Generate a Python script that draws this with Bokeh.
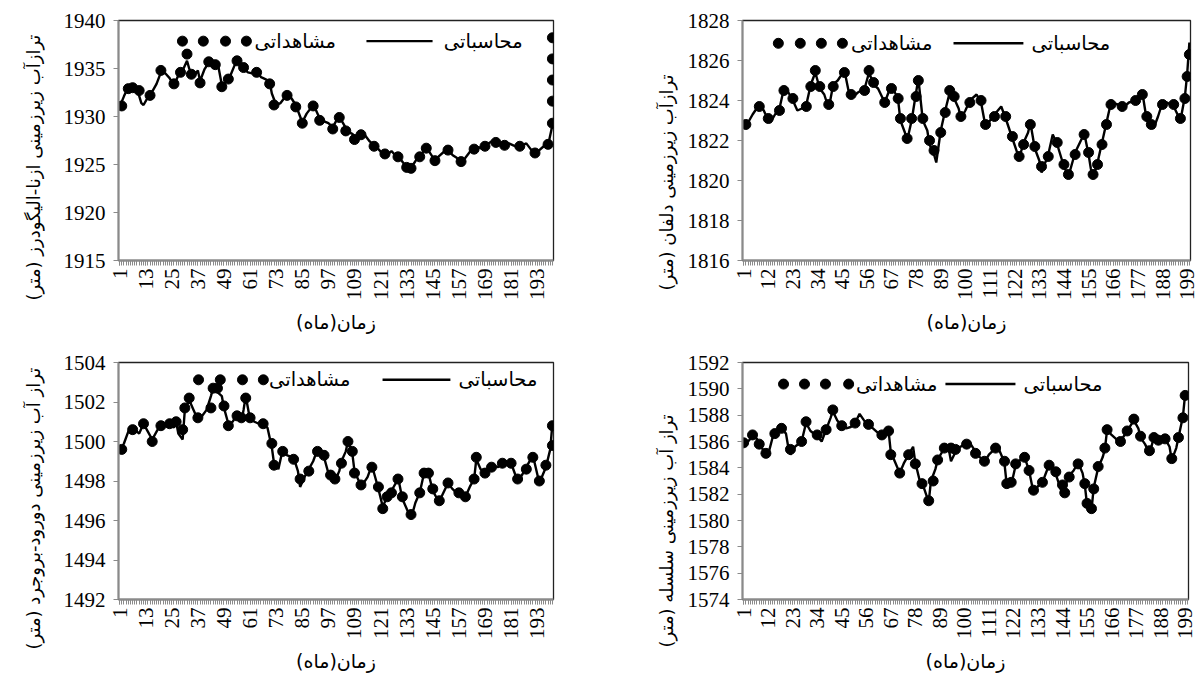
import math
from bokeh.plotting import figure
from bokeh.models import FixedTicker, Range1d, Label, Title
from bokeh.layouts import column, row
from bokeh.embed import file_html
from bokeh.resources import INLINE

# ---------------- tick labels ----------------
xticks_a = [1, 13, 25, 37, 49, 61, 73, 85, 97, 109, 121, 133, 145, 157, 169, 181, 193]
xticks_b = [1, 12, 23, 34, 45, 56, 67, 78, 89, 100, 111, 122, 133, 144, 155, 166, 177, 188, 199]
month_marks = list(range(1, 201))
yticks_1 = [1915, 1920, 1925, 1930, 1935, 1940]
yticks_2 = [1816, 1818, 1820, 1822, 1824, 1826, 1828]
yticks_3 = [1492, 1494, 1496, 1498, 1500, 1502, 1504]
yticks_4 = [1574, 1576, 1578, 1580, 1582, 1584, 1586, 1588, 1590, 1592]

# ---------------- panel 1: Azna-Aligudarz ----------------
obs1_m = [2, 5, 7, 10, 15, 20, 26, 29, 32, 34,
          38, 42, 45, 48, 51, 55, 58, 64, 70, 72,
          78, 82, 85, 90, 93, 99, 102, 105, 109, 112,
          118, 123, 129, 133, 135, 139, 142, 146, 152, 158,
          164, 169, 174, 178, 185, 192, 198, 200, 200, 200,
          200, 200]
obs1_v = [1931.1, 1932.9, 1933.0, 1932.7, 1932.2, 1934.8, 1933.4, 1934.6, 1936.5, 1934.4,
          1933.5, 1935.7, 1935.4, 1933.1, 1933.9, 1935.8, 1935.1, 1934.6, 1933.4, 1931.2,
          1932.2, 1931.0, 1929.3, 1931.1, 1929.6, 1928.7, 1929.9, 1928.5, 1927.6, 1928.1,
          1926.9, 1926.1, 1925.8, 1924.7, 1924.6, 1925.8, 1926.7, 1925.4, 1926.5, 1925.3,
          1926.6, 1926.9, 1927.3, 1927.0, 1926.9, 1926.2, 1927.1, 1929.3, 1931.6, 1933.8,
          1936.0, 1938.2]
sim1_m = [1, 3, 5, 7, 9, 11, 12, 14, 16, 18,
          20, 22, 24, 26, 28, 30, 32, 33, 35, 37,
          38, 40, 42, 44, 46, 48, 50, 52, 54, 56,
          58, 60, 62, 64, 66, 68, 70, 71, 73, 75,
          77, 78, 80, 82, 84, 85, 87, 89, 91, 93,
          95, 97, 99, 101, 102, 104, 106, 108, 110, 112,
          114, 116, 118, 120, 122, 124, 126, 128, 130, 132,
          134, 136, 138, 140, 142, 144, 146, 148, 150, 152,
          154, 156, 158, 160, 162, 164, 166, 168, 170, 172,
          174, 176, 178, 180, 182, 184, 186, 188, 190, 192,
          194, 196, 198, 200]
sim1_v = [1931.0, 1932.1, 1933.1, 1933.3, 1932.9, 1931.4, 1931.2, 1932.0, 1932.6, 1933.4,
          1934.6, 1934.5, 1934.0, 1933.2, 1934.3, 1934.8, 1935.8, 1935.0, 1934.1, 1934.8,
          1933.7, 1934.9, 1935.6, 1935.2, 1935.7, 1933.3, 1933.6, 1934.3, 1935.4, 1935.7,
          1935.0, 1934.6, 1934.5, 1934.8, 1934.1, 1933.9, 1933.6, 1932.4, 1931.2, 1931.4,
          1932.0, 1932.4, 1931.9, 1931.2, 1930.0, 1929.4, 1930.3, 1930.9, 1930.8, 1929.8,
          1929.5, 1929.3, 1928.9, 1929.7, 1930.0, 1929.2, 1928.4, 1928.2, 1927.8, 1928.3,
          1928.0, 1927.4, 1927.0, 1926.6, 1926.1, 1926.0, 1926.4, 1925.9, 1925.6, 1925.0,
          1924.6, 1925.0, 1925.7, 1926.1, 1926.8, 1926.1, 1925.4, 1925.9, 1926.3, 1926.7,
          1926.0, 1925.7, 1925.3, 1925.7, 1926.3, 1926.7, 1926.8, 1926.6, 1927.1, 1927.4,
          1927.3, 1927.0, 1926.9, 1927.2, 1927.0, 1926.8, 1927.0, 1927.2, 1926.6, 1926.1,
          1926.5, 1926.9, 1927.0, 1929.1]

# ---------------- panel 2: Delfan ----------------
obs2_m = [2, 8, 12, 17, 19, 23, 29, 31, 33, 35,
          39, 41, 46, 49, 55, 57, 59, 64, 67, 70,
          71, 74, 76, 78, 79, 81, 84, 86, 89, 91,
          93, 95, 98, 102, 107, 109, 113, 118, 121, 124,
          126, 129, 131, 134, 137, 141, 144, 146, 149, 153,
          155, 157, 159, 161, 163, 165, 170, 176, 179, 181,
          183, 188, 193, 196, 198, 199, 200]
obs2_v = [1822.8, 1823.7, 1823.1, 1823.5, 1824.5, 1824.1, 1823.7, 1824.7, 1825.5, 1824.7,
          1823.8, 1824.7, 1825.4, 1824.3, 1824.5, 1825.5, 1824.9, 1823.9, 1824.6, 1824.1,
          1823.1, 1822.1, 1823.1, 1824.2, 1825.0, 1823.1, 1822.0, 1821.5, 1822.4, 1823.4,
          1824.5, 1824.2, 1823.2, 1823.9, 1824.0, 1822.8, 1823.2, 1823.2, 1822.2, 1821.2,
          1821.8, 1822.8, 1821.7, 1820.7, 1821.2, 1821.9, 1820.8, 1820.3, 1821.3, 1822.3,
          1821.4, 1820.3, 1820.8, 1821.8, 1822.8, 1823.8, 1823.7, 1824.0, 1824.3, 1823.2,
          1822.8, 1823.8, 1823.8, 1823.1, 1824.1, 1825.2, 1826.3]
sim2_m = [1, 3, 5, 8, 10, 12, 13, 15, 17, 19,
          21, 23, 25, 27, 29, 31, 33, 35, 37, 39,
          41, 43, 46, 48, 50, 52, 55, 57, 59, 61,
          64, 66, 67, 69, 70, 71, 73, 74, 76, 78,
          79, 81, 83, 84, 86, 87, 89, 91, 93, 95,
          97, 98, 100, 102, 105, 107, 109, 111, 113, 116,
          118, 121, 124, 126, 128, 129, 131, 133, 134, 137,
          139, 141, 144, 146, 149, 152, 153, 155, 156, 157,
          159, 161, 163, 165, 168, 170, 173, 176, 179, 181,
          184, 186, 188, 190, 193, 196, 198, 199, 200]
sim2_v = [1822.7, 1822.9, 1823.3, 1823.8, 1823.5, 1823.0, 1822.9, 1823.3, 1823.6, 1824.6,
          1824.4, 1824.0, 1823.5, 1823.6, 1823.8, 1824.8, 1825.4, 1824.6, 1824.3, 1823.6,
          1824.8, 1825.0, 1825.5, 1824.4, 1824.2, 1824.4, 1824.6, 1825.4, 1824.8, 1824.6,
          1823.9, 1824.5, 1824.7, 1824.3, 1824.0, 1823.0, 1822.4, 1822.0, 1823.0, 1824.4,
          1825.1, 1823.0, 1822.5, 1821.8, 1821.3, 1820.9, 1822.5, 1823.5, 1824.4, 1824.1,
          1823.6, 1823.1, 1823.5, 1824.0, 1824.3, 1823.9, 1822.7, 1823.0, 1823.3, 1823.7,
          1823.1, 1822.1, 1821.1, 1821.9, 1822.4, 1822.9, 1821.6, 1821.0, 1820.4, 1821.3,
          1822.3, 1821.8, 1820.7, 1820.2, 1821.4, 1822.1, 1822.4, 1821.3, 1820.6, 1820.1,
          1820.9, 1821.9, 1822.9, 1823.9, 1823.8, 1823.6, 1823.9, 1824.0, 1824.4, 1823.0,
          1822.6, 1823.2, 1823.9, 1823.9, 1823.7, 1823.0, 1824.2, 1825.3, 1826.9]

# ---------------- panel 3: Dorud-Borujerd ----------------
obs3_m = [2, 7, 12, 16, 20, 24, 27, 30, 31, 33,
          37, 43, 44, 46, 49, 51, 55, 57, 59, 61,
          67, 71, 72, 76, 81, 84, 88, 92, 95, 98,
          100, 103, 106, 108, 109, 112, 117, 120, 122, 124,
          126, 129, 131, 135, 139, 141, 143, 145, 148, 152,
          157, 160, 164, 165, 169, 172, 177, 181, 184, 188,
          191, 194, 197, 200, 200]
obs3_v = [1499.6, 1500.6, 1500.9, 1500.0, 1500.8, 1500.9, 1501.0, 1500.6, 1501.7, 1502.2,
          1501.2, 1501.7, 1502.7, 1502.7, 1501.8, 1500.8, 1501.3, 1501.2, 1502.2, 1501.2,
          1500.9, 1499.9, 1498.8, 1499.5, 1499.1, 1498.1, 1498.5, 1499.5, 1499.3, 1498.3,
          1498.1, 1498.9, 1500.0, 1499.5, 1498.4, 1497.8, 1498.7, 1497.7, 1496.6, 1497.2,
          1497.4, 1498.1, 1497.2, 1496.3, 1497.4, 1498.4, 1498.4, 1497.6, 1497.0, 1497.9,
          1497.4, 1497.2, 1498.1, 1499.2, 1498.4, 1498.7, 1498.9, 1498.9, 1498.1, 1498.6,
          1499.2, 1498.0, 1498.8, 1499.8, 1500.8]
sim3_m = [1, 3, 5, 7, 10, 12, 14, 16, 18, 20,
          22, 24, 26, 27, 28, 30, 31, 33, 35, 37,
          39, 41, 43, 44, 46, 48, 49, 51, 53, 55,
          57, 58, 59, 61, 63, 65, 67, 69, 71, 72,
          74, 76, 78, 81, 83, 84, 86, 88, 90, 92,
          95, 97, 98, 100, 102, 103, 105, 106, 108, 109,
          111, 112, 115, 117, 119, 120, 122, 124, 126, 128,
          129, 131, 133, 135, 137, 139, 141, 143, 145, 147,
          149, 152, 154, 157, 160, 162, 164, 165, 167, 169,
          172, 175, 177, 179, 181, 184, 186, 188, 191, 194,
          197, 199, 200]
sim3_v = [1499.5, 1499.9, 1500.5, 1500.7, 1500.4, 1500.9, 1500.5, 1500.1, 1500.5, 1500.9,
          1500.8, 1501.0, 1500.7, 1501.0, 1500.4, 1500.1, 1501.6, 1502.1, 1501.6, 1501.1,
          1501.3, 1501.6, 1502.3, 1502.7, 1502.5, 1502.3, 1501.7, 1500.9, 1501.0, 1501.4,
          1501.0, 1501.6, 1502.3, 1501.1, 1501.0, 1500.9, 1500.8, 1500.7, 1499.7, 1498.9,
          1498.6, 1499.6, 1499.3, 1499.2, 1498.5, 1497.7, 1498.2, 1498.6, 1499.0, 1499.6,
          1499.2, 1498.4, 1498.2, 1498.0, 1498.5, 1499.0, 1499.5, 1500.0, 1499.4, 1498.5,
          1498.0, 1497.7, 1498.2, 1498.8, 1498.0, 1497.6, 1496.7, 1497.2, 1497.5, 1497.9,
          1498.2, 1497.1, 1496.6, 1496.1, 1496.9, 1497.4, 1498.4, 1498.4, 1497.5, 1497.1,
          1497.2, 1497.9, 1497.6, 1497.3, 1497.2, 1497.7, 1498.1, 1499.1, 1498.6, 1498.4,
          1498.8, 1498.7, 1499.0, 1498.8, 1498.9, 1498.0, 1498.3, 1498.7, 1499.3, 1497.9,
          1498.7, 1499.6, 1500.9]

# ---------------- panel 4: Selseleh ----------------
obs4_m = [1, 5, 8, 11, 15, 18, 22, 27, 29, 34,
          38, 41, 45, 51, 57, 63, 66, 67, 71, 75,
          78, 81, 84, 86, 88, 91, 94, 96, 101, 105,
          109, 114, 118, 119, 121, 123, 127, 129, 131, 135,
          138, 141, 144, 145, 147, 151, 154, 155, 157, 158,
          160, 163, 164, 170, 173, 176, 179, 183, 185, 187,
          190, 193, 196, 198, 199]
obs4_v = [1585.9, 1586.5, 1585.8, 1585.1, 1586.6, 1587.0, 1585.4, 1586.0, 1587.5, 1586.5,
          1586.9, 1588.4, 1587.2, 1587.4, 1587.3, 1586.5, 1586.8, 1585.0, 1583.6, 1585.0,
          1584.3, 1582.8, 1581.5, 1583.0, 1584.6, 1585.5, 1585.5, 1585.4, 1585.8, 1585.1,
          1584.5, 1585.5, 1584.5, 1582.8, 1582.9, 1584.3, 1584.8, 1583.8, 1582.3, 1582.9,
          1584.2, 1583.7, 1582.7, 1582.1, 1583.3, 1584.3, 1582.8, 1581.3, 1580.9, 1582.4,
          1584.1, 1585.5, 1586.9, 1586.0, 1586.8, 1587.7, 1586.4, 1585.3, 1586.3, 1586.1,
          1586.2, 1584.7, 1586.3, 1587.8, 1589.5]
sim4_m = [1, 3, 5, 7, 8, 10, 12, 14, 16, 18,
          20, 21, 22, 24, 27, 29, 31, 34, 36, 38,
          40, 41, 43, 45, 47, 49, 51, 53, 55, 57,
          59, 61, 63, 65, 66, 67, 69, 71, 73, 75,
          77, 78, 80, 82, 84, 85, 87, 88, 90, 91,
          93, 94, 96, 98, 101, 102, 104, 105, 107, 109,
          111, 114, 115, 117, 118, 119, 121, 123, 125, 127,
          129, 131, 133, 135, 137, 138, 140, 141, 143, 144,
          146, 147, 149, 151, 153, 154, 155, 157, 158, 160,
          162, 163, 164, 166, 168, 170, 173, 176, 178, 179,
          181, 183, 185, 187, 189, 190, 192, 193, 195, 196,
          198, 199]
sim4_v = [1585.8, 1586.0, 1586.4, 1586.2, 1585.8, 1585.3, 1585.0, 1586.3, 1586.7, 1587.0,
          1586.6, 1585.6, 1585.0, 1585.6, 1586.0, 1587.4, 1586.8, 1586.4, 1586.0, 1586.9,
          1587.8, 1588.3, 1587.6, 1587.2, 1587.0, 1587.1, 1587.4, 1588.1, 1587.6, 1587.2,
          1587.0, 1586.7, 1586.5, 1586.6, 1586.8, 1585.2, 1584.4, 1583.6, 1584.4, 1585.0,
          1585.6, 1584.4, 1583.0, 1582.4, 1581.4, 1583.0, 1583.9, 1584.6, 1585.2, 1585.5,
          1585.4, 1584.5, 1585.2, 1585.6, 1585.8, 1586.0, 1585.5, 1585.1, 1584.8, 1584.4,
          1585.0, 1585.5, 1585.6, 1584.8, 1584.3, 1582.7, 1582.7, 1584.2, 1584.6, 1584.8,
          1583.8, 1582.1, 1582.6, 1582.9, 1583.8, 1584.3, 1584.0, 1583.5, 1582.5, 1582.0,
          1583.0, 1583.4, 1583.8, 1584.4, 1583.6, 1582.7, 1581.2, 1580.8, 1582.5, 1584.0,
          1584.8, 1585.4, 1586.9, 1586.5, 1586.2, 1586.0, 1586.8, 1587.6, 1587.0, 1586.3,
          1585.8, 1585.1, 1586.3, 1586.0, 1586.4, 1586.2, 1585.6, 1584.6, 1585.5, 1586.3,
          1587.9, 1589.6]

ytitle_1 = "ترازآب زیرزمینی ازنا-الیگودرز (متر)"
ytitle_2 = "ترازآب زیرزمینی دلفان (متر)"
ytitle_3 = "تراز آب زیرزمینی دورود-بروجرد (متر)"
ytitle_4 = "تراز آب زیرزمینی سلسله (متر)"
xtitle = "زمان(ماه)"
label_obs = "مشاهداتی"
label_sim = "محاسباتی"

AXIS_GRAY = "#8a8a8a"
FA_FONT = "DejaVu Sans"
NUM_FONT = "'Liberation Serif', 'Times New Roman', serif"


def panel(obs_m, obs_v, sim_m, sim_v, yticks, xticks, ytitle,
          width, height, bl, br, bt, bb, title_standoff, title_offset, leg):
    x0, x1 = 0.5, 200.5
    y0, y1 = yticks[0], yticks[-1]
    p = figure(width=width, height=height, output_backend="svg", toolbar_location=None,
               x_range=Range1d(x0, x1), y_range=Range1d(y0, y1),
               min_border_left=bl, min_border_right=br, min_border_top=bt, min_border_bottom=bb,
               background_fill_color="white", border_fill_color="white")
    p.grid.visible = False
    p.outline_line_color = "#222222"
    p.outline_line_width = 1.3

    p.line(sim_m, sim_v, line_color="black", line_width=2.4)
    p.scatter(obs_m, obs_v, size=10, fill_color="black", line_color="black")

    # legend (positions as fractions of the frame)
    ly = y1 - leg["y"] * (y1 - y0)
    dots_x = [x0 + f * (x1 - x0) for f in leg["dots"]]
    p.scatter(dots_x, [ly] * len(dots_x), size=10, fill_color="black", line_color="black")
    p.add_layout(Label(x=x0 + leg["t1"] * (x1 - x0), y=ly, text=label_obs,
                       text_align="right", text_baseline="middle",
                       text_font=FA_FONT, text_font_size="19.5px", text_color="black"))
    p.line([x0 + leg["l0"] * (x1 - x0), x0 + leg["l1"] * (x1 - x0)], [ly, ly],
           line_color="black", line_width=2.4)
    p.add_layout(Label(x=x0 + leg["t2"] * (x1 - x0), y=ly, text=label_sim,
                       text_align="right", text_baseline="middle",
                       text_font=FA_FONT, text_font_size="19.5px", text_color="black"))

    xa = p.xaxis[0]
    xa.ticker = FixedTicker(ticks=xticks, minor_ticks=month_marks)
    xa.major_label_orientation = math.pi / 2
    xa.axis_line_color = AXIS_GRAY
    xa.axis_line_width = 2
    xa.major_tick_line_color = AXIS_GRAY
    xa.minor_tick_line_color = AXIS_GRAY
    xa.major_tick_in = 0
    xa.major_tick_out = 5
    xa.minor_tick_in = 0
    xa.minor_tick_out = 5
    xa.major_label_text_font = NUM_FONT
    xa.major_label_text_font_size = "21px"
    xa.major_label_text_color = "black"
    xa.major_label_standoff = 3
    xa.axis_label = xtitle
    xa.axis_label_text_font = FA_FONT
    xa.axis_label_text_font_style = "normal"
    xa.axis_label_text_font_size = "19px"
    xa.axis_label_text_color = "black"
    xa.axis_label_standoff = 8

    ya = p.yaxis[0]
    ya.ticker = FixedTicker(ticks=yticks, minor_ticks=[])
    ya.axis_line_color = AXIS_GRAY
    ya.axis_line_width = 2
    ya.major_tick_line_color = AXIS_GRAY
    ya.minor_tick_line_color = None
    ya.major_tick_in = 0
    ya.major_tick_out = 5
    ya.major_label_text_font = NUM_FONT
    ya.major_label_text_font_size = "21px"
    ya.major_label_text_color = "black"
    ya.major_label_standoff = 8

    # vertical axis title as a side title, anchored at the frame bottom and shifted down
    t = Title(text=ytitle, align="left", offset=title_offset, standoff=title_standoff,
              vertical_align="top",
              text_font=FA_FONT, text_font_size="18px", text_font_style="normal",
              text_color="black")
    p.add_layout(t, "left")
    return p


p1 = panel(obs1_m, obs1_v, sim1_m, sim1_v, yticks_1, xticks_a, ytitle_1,
           600, 337, 118, 47, 20, 77, 30, -40,
           dict(y=0.086, dots=[0.147, 0.195, 0.246, 0.294], t1=0.50, l0=0.570, l1=0.722, t2=0.929))
p2 = panel(obs2_m, obs2_v, sim2_m, sim2_v, yticks_2, xticks_b, ytitle_2,
           601, 337, 142, 11, 20, 77, 12, -30,
           dict(y=0.095, dots=[0.080, 0.129, 0.176, 0.223], t1=0.424, l0=0.471, l1=0.627, t2=0.821))
p3 = panel(obs3_m, obs3_v, sim3_m, sim3_v, yticks_3, xticks_a, ytitle_3,
           600, 338, 118, 47, 23, 72, 30, -50,
           dict(y=0.073, dots=[0.184, 0.234, 0.285, 0.333], t1=0.533, l0=0.607, l1=0.763, t2=0.963))
p4 = panel(obs4_m, obs4_v, sim4_m, sim4_v, yticks_4, xticks_b, ytitle_4,
           601, 338, 142, 13, 25, 72, 12, -48,
           dict(y=0.091, dots=[0.092, 0.139, 0.186, 0.238], t1=0.437, l0=0.455, l1=0.612, t2=0.807))

layout = column(row(p1, p2), row(p3, p4))
open("out.html", "w").write(file_html(layout, INLINE))
